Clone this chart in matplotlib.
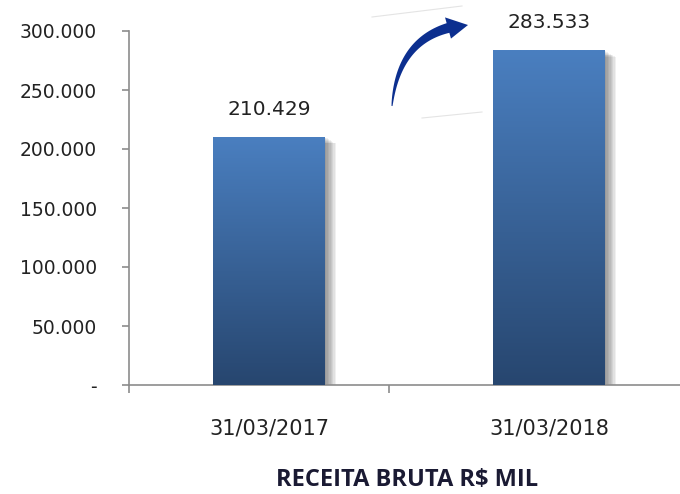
import numpy as np
import matplotlib
matplotlib.use("Agg")
import matplotlib.pyplot as plt
from matplotlib.patches import Polygon
import matplotlib.patheffects as pe
from matplotlib.colors import LinearSegmentedColormap

categories = ["31/03/2017", "31/03/2018"]
values = [210429, 283533]
value_labels = ["210.429", "283.533"]
yticks = [0, 50000, 100000, 150000, 200000, 250000, 300000]
ytick_labels = ["-", "50.000", "100.000", "150.000", "200.000", "250.000", "300.000"]
xlabel = "RECEITA BRUTA R$ MIL"

W, H = 680, 494
fig = plt.figure(figsize=(W / 100, H / 100), dpi=100)
fig.patch.set_facecolor("white")

left, right, bottom, top = 129, 689, 385, 31
ax = fig.add_axes([left / W, (H - bottom) / H, (right - left) / W, (bottom - top) / H])
ax.set_facecolor("none")

axis_col = "#8c8c8c"
for s in ["top", "right"]:
    ax.spines[s].set_visible(False)
for s in ["left", "bottom"]:
    ax.spines[s].set_color(axis_col)
    ax.spines[s].set_linewidth(1.2)

ax.set_yticks(yticks)
ax.set_yticklabels(ytick_labels)
ax.tick_params(axis="y", length=5, width=1.2, color=axis_col, pad=18,
               labelsize=13.5, labelcolor="#222222")
ax.set_xticks([-0.5, 0.43])
ax.set_xticklabels(["", ""])
ax.tick_params(axis="x", which="major", length=6, width=1.2, color=axis_col)
x = np.arange(len(categories))
ax.set_xticks(x, minor=True)
ax.set_xticklabels(categories, minor=True)
ax.tick_params(axis="x", which="minor", length=0, pad=24, labelsize=15,
               labelcolor="#222222")

bar_w = 0.4
bars = ax.bar(x, values, width=bar_w, color="#3a64a0", zorder=2)
grad = np.linspace(0, 1, 256).reshape(-1, 1)
cmap = LinearSegmentedColormap.from_list("g", ["#27466f", "#4a7fc0"])
for b in bars:
    shadows = [pe.SimplePatchShadow(offset=(i, -i * 0.6), alpha=0.06,
                                    shadow_rgbFace="black") for i in range(1, 9)]
    b.set_path_effects(shadows + [pe.Normal()])
    bx, by = b.get_x(), b.get_y()
    bw, bh = b.get_width(), b.get_height()
    im = ax.imshow(grad, extent=[bx, bx + bw, by, by + bh], origin="lower",
                   cmap=cmap, aspect="auto", zorder=3)
    im.set_clip_path(b)
ax.set_xlim(-0.5, 1.5)
ax.set_ylim(0, 300000)

for xi, v, lab in zip(x, values, value_labels):
    ax.annotate(lab, (xi, v), xytext=(0, 13), textcoords="offset points",
                ha="center", va="bottom", fontsize=14.5, color="#222222")

ax.set_xlabel(xlabel, fontsize=17, fontweight="bold", color="#1a1a33",
              family="Open Sans")
ax.xaxis.set_label_coords((407 - left) / (right - left), -0.235)

# decorative curved arrow (tapered shaft + head), in figure pixels
def fp(px, py):
    return (px / W, 1 - py / H)
P0 = np.array([392.0, 106.0])
P1 = np.array([398.0, 42.0])
P2 = np.array([448.0, 28.0])
t = np.linspace(0, 1, 40)
pts = ((1 - t)[:, None] ** 2) * P0 + (2 * (1 - t) * t)[:, None] * P1 + (t[:, None] ** 2) * P2
d = (2 * (1 - t))[:, None] * (P1 - P0) + (2 * t)[:, None] * (P2 - P1)
d /= np.linalg.norm(d, axis=1)[:, None]
n = np.column_stack([-d[:, 1], d[:, 0]])
w = 0.5 + 4.5 * t ** 0.8
side1 = pts + n * w[:, None]
side2 = pts - n * w[:, None]
tip = np.array([468.0, 25.0])
hn = n[-1]
head = [P2 + hn * 11, tip, P2 - hn * 11]
poly_px = np.vstack([side1, [head[0]], [tip], [head[2]], side2[::-1]])
poly = np.array([fp(px, py) for px, py in poly_px])
fig.add_artist(Polygon(poly, closed=True, transform=fig.transFigure,
                       facecolor="#0c2f8f", edgecolor="none"))
for (x0, y0, x1, y1) in [(372, 17, 462, 6), (422, 118, 482, 112)]:
    fig.add_artist(plt.Line2D([x0 / W, x1 / W], [1 - y0 / H, 1 - y1 / H],
                              transform=fig.transFigure, color="#e4e4e4", lw=0.8))

fig.savefig("out.png", dpi=100)
